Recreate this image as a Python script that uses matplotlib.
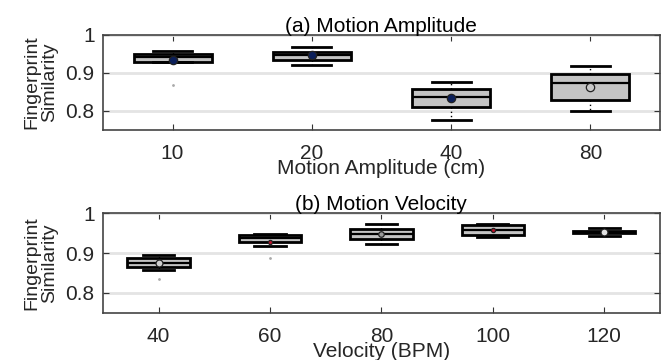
import matplotlib
matplotlib.use("Agg")
import matplotlib.pyplot as plt

plt.rcParams['font.family'] = ['Liberation Sans', 'DejaVu Sans']

# (a) motion amplitude
amp_labels = ["10", "20", "40", "80"]
amp_q1 = [0.929, 0.934, 0.810, 0.830]
amp_med = [0.942, 0.946, 0.836, 0.874]
amp_q3 = [0.950, 0.955, 0.857, 0.897]
amp_lo = [0.929, 0.921, 0.776, 0.800]
amp_hi = [0.958, 0.967, 0.877, 0.917]
amp_mean = [0.933, 0.948, 0.834, 0.864]
amp_fliers = [[0.868], [], [], []]
amp_mean_fc = ["#0b1f5a", "#0b1f5a", "#0b1f5a", "#c8c8c8"]

# (b) motion velocity
vel_labels = ["40", "60", "80", "100", "120"]
vel_q1 = [0.864, 0.928, 0.936, 0.946, 0.949]
vel_med = [0.876, 0.937, 0.948, 0.958, 0.953]
vel_q3 = [0.888, 0.944, 0.959, 0.969, 0.956]
vel_lo = [0.857, 0.917, 0.922, 0.940, 0.943]
vel_hi = [0.894, 0.947, 0.972, 0.973, 0.962]
vel_mean = [0.876, 0.928, 0.948, 0.958, 0.953]
vel_fliers = [[0.834], [0.888], [], [], []]
vel_mean_fc = ["#d0d0d0", "#c0102a", "#9a9a9a", "#c0102a", "#e0e0e0"]
vel_mean_ms = [5, 3, 4, 3, 5]


def draw(ax, labels, q1, med, q3, lo, hi, mean, fliers, mean_fc, mean_ms, title, xlabel, xl_y):
    stats = [dict(q1=a, med=m, q3=b, whislo=l, whishi=h, mean=mu, fliers=f)
             for a, m, b, l, h, mu, f in zip(q1, med, q3, lo, hi, mean, fliers)]
    pos = range(1, len(labels) + 1)
    ax.bxp(stats, positions=pos, widths=0.56, patch_artist=True, showmeans=False,
           boxprops=dict(facecolor="#c4c4c4", edgecolor="black", lw=2.0),
           medianprops=dict(color="black", lw=1.6),
           whiskerprops=dict(color="black", lw=1.0, ls=(0, (1, 2))),
           capprops=dict(color="black", lw=2.0), capwidths=0.28,
           flierprops=dict(marker=".", ms=2, mfc="#aaaaaa", mec="#aaaaaa"))
    for x, mu, fc, ms in zip(pos, mean, mean_fc, mean_ms):
        ax.plot(x, mu, "o", ms=ms, mfc=fc, mec="#222222", mew=0.9, zorder=5)
    ax.set_xlim(0.5, len(labels) + 0.5)
    ax.set_ylim(0.75, 1.0)
    ax.set_yticks([0.8, 0.9, 1.0])
    ax.set_yticklabels(["0.8", "0.9", "1"])
    ax.set_xticks(list(pos))
    ax.set_xticklabels(labels)
    ax.grid(axis="y", color="#e4e4e4", lw=2)
    ax.set_axisbelow(True)
    ax.tick_params(direction="in", top=True, right=True, labelsize=15, length=4,
                   colors="#333333", labelcolor="#262626")
    ax.tick_params(axis="x", pad=10)
    ax.tick_params(axis="y", pad=6)
    for s in ax.spines.values():
        s.set_color("#444444"); s.set_linewidth(1.2)
    ax.set_title(title, fontsize=15, pad=2)
    ax.set_xlabel(xlabel, fontsize=15, color="#262626")
    ax.xaxis.set_label_coords(0.5, xl_y)
    ax.set_ylabel("Fingerprint\nSimilarity", fontsize=14, color="#262626", linespacing=1.1)
    ax.yaxis.set_label_coords(-0.08, 0.5)


fig = plt.figure(figsize=(6.68, 3.6), dpi=100)
ax1 = fig.add_axes([0.154, 0.639, 0.834, 0.264])
ax2 = fig.add_axes([0.154, 0.131, 0.834, 0.277])
draw(ax1, amp_labels, amp_q1, amp_med, amp_q3, amp_lo, amp_hi, amp_mean, amp_fliers,
     amp_mean_fc, [6, 6, 6, 6], "(a) Motion Amplitude", "Motion Amplitude (cm)", -0.31)
draw(ax2, vel_labels, vel_q1, vel_med, vel_q3, vel_lo, vel_hi, vel_mean, vel_fliers,
     vel_mean_fc, vel_mean_ms, "(b) Motion Velocity", "Velocity (BPM)", -0.29)
fig.savefig("out.png", dpi=100)
